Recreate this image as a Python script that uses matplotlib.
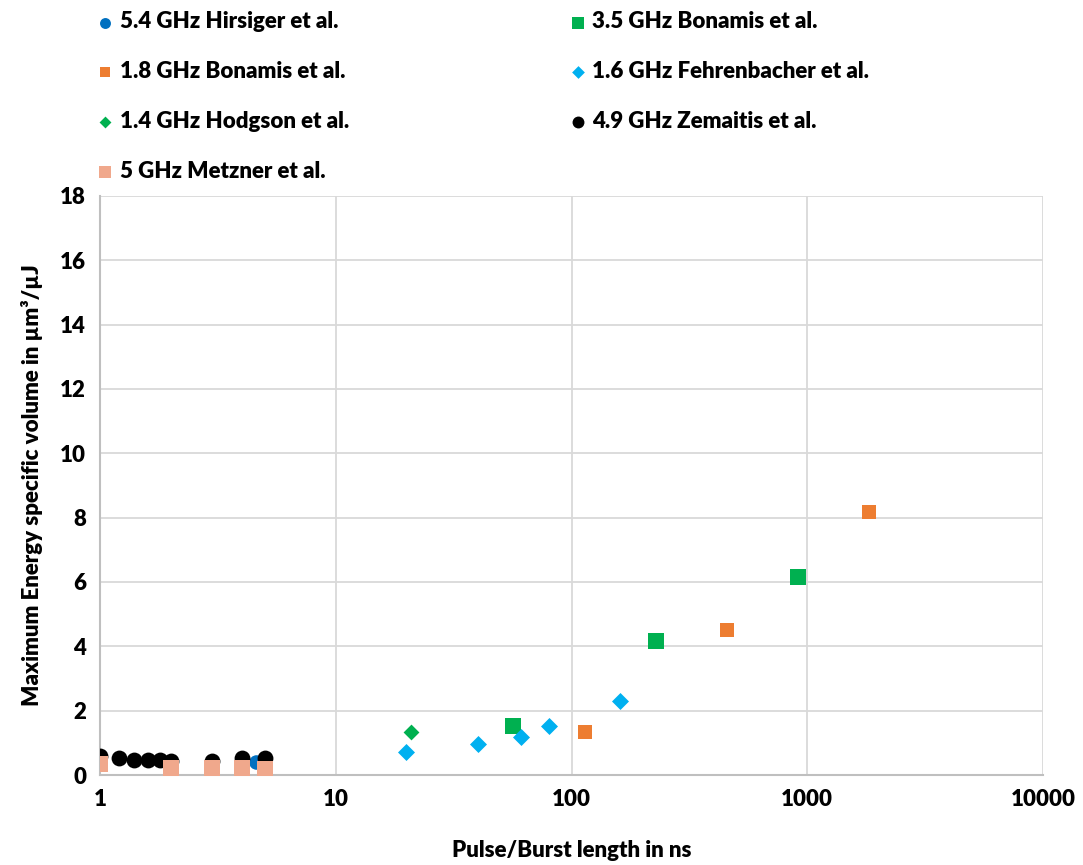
import matplotlib.pyplot as plt
from matplotlib.ticker import FixedLocator, FixedFormatter, NullLocator

plt.rcParams['font.family'] = ['Lato', 'DejaVu Sans']
plt.rcParams['font.weight'] = 'heavy'

# data
hirsiger_x = [4.6]
hirsiger_y = [0.4]

bonamis35_x = [56.5, 228, 915]
bonamis35_y = [1.52, 4.17, 6.15]

bonamis18_x = [114, 457, 1832]
bonamis18_y = [1.34, 4.5, 8.17]

fehrenbacher_x = [19.9, 40.2, 61.1, 80.4, 160.8]
fehrenbacher_y = [0.72, 0.96, 1.18, 1.52, 2.3]

hodgson_x = [20.9]
hodgson_y = [1.34]

zemaitis_x = [1, 1.2, 1.4, 1.6, 1.8, 2, 3, 4, 5]
zemaitis_y = [0.6, 0.52, 0.48, 0.47, 0.46, 0.45, 0.45, 0.52, 0.52]

metzner_x = [1, 2, 3, 4, 5]
metzner_y = [0.33, 0.22, 0.22, 0.22, 0.2]

x_ticks = [1, 10, 100, 1000, 10000]
y_ticks = [0, 2, 4, 6, 8, 10, 12, 14, 16, 18]

series = [
    ("5.4 GHz Hirsiger et al.", hirsiger_x, hirsiger_y, "o", "#0070C0", 110),
    ("3.5 GHz Bonamis et al.", bonamis35_x, bonamis35_y, "s", "#00B050", 130),
    ("1.8 GHz Bonamis et al.", bonamis18_x, bonamis18_y, "s", "#ED7D31", 100),
    ("1.6 GHz Fehrenbacher et al.", fehrenbacher_x, fehrenbacher_y, "D", "#00B0F0", 75),
    ("1.4 GHz Hodgson et al.", hodgson_x, hodgson_y, "D", "#00B050", 65),
    ("4.9 GHz Zemaitis et al.", zemaitis_x, zemaitis_y, "o", "black", 130),
    ("5 GHz Metzner et al.", metzner_x, metzner_y, "s", "#F0A88C", 130),
]

fig = plt.figure(figsize=(10.83, 8.65), dpi=100)
ax = fig.add_axes([100 / 1083, 90 / 865, 943 / 1083, 579 / 865])

handles = []
for label, xs, ys, marker, color, size in series:
    h = ax.scatter(xs, ys, marker=marker, color=color, s=size, label=label,
                   linewidths=0, zorder=3)
    handles.append(h)

ax.set_xscale("log")
ax.set_xlim(1, 10000)
ax.set_ylim(0, 18)
ax.xaxis.set_major_locator(FixedLocator(x_ticks))
ax.xaxis.set_major_formatter(FixedFormatter([str(t) for t in x_ticks]))
ax.xaxis.set_minor_locator(NullLocator())
ax.set_yticks(y_ticks)

ax.grid(True, color="#d9d9d9", linewidth=1.3, zorder=0)
ax.set_axisbelow(True)
for side in ["top", "right"]:
    ax.spines[side].set_visible(False)
for side in ["left", "bottom"]:
    ax.spines[side].set_color("#bfbfbf")
    ax.spines[side].set_linewidth(1.5)
ax.tick_params(length=0, labelsize=16, pad=10)

ax.set_xlabel("Pulse/Burst length in ns", fontsize=16, fontweight="heavy", labelpad=22)
ax.set_ylabel("Maximum Energy specific volume in µm³/µJ", fontsize=16,
              fontweight="heavy", labelpad=12)

# row-wise legend order in two columns
order = [0, 2, 4, 6, 1, 3, 5]
fig.legend([handles[i] for i in order], [series[i][0] for i in order],
           loc="upper left", bbox_to_anchor=(74 / 1083, 1.01), ncol=2,
           frameon=False, fontsize=16, markerscale=0.75, handletextpad=0.15,
           handlelength=1.0, columnspacing=9.8, labelspacing=1.3)

fig.savefig("out.png", dpi=100)
